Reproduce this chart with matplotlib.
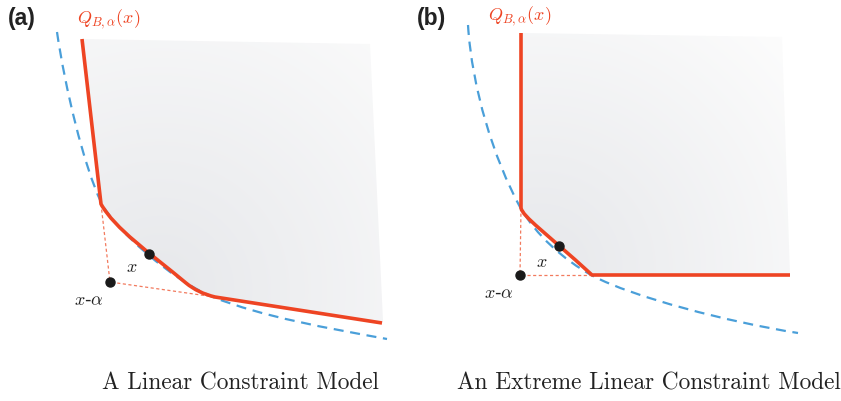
import matplotlib
matplotlib.use("Agg")
import matplotlib.pyplot as plt
import numpy as np
from matplotlib.path import Path
from matplotlib.patches import PathPatch

plt.rcParams['mathtext.fontset'] = 'cm'

# all coordinates are in picture pixels (x right, y down)
M, L, C3, C4 = Path.MOVETO, Path.LINETO, Path.CURVE3, Path.CURVE4

# panel (a): linear constraint model
a_red = [(82, 40), (101, 205), (115, 230), (150, 254), (186, 284), (198, 294), (215, 298),
         (382, 324)]
a_red_codes = [M, L, C4, C4, C4, C3, C3, L]
# blue dashed curve as three cubic bezier pieces
a_blue = [(57, 33), (65, 88), (83.5, 166), (101, 203),
          (113.5, 229.5), (173, 282), (213, 298),
          (263, 318), (327, 329), (387, 340)]
a_fill = [(370, 45), (383, 322)]   # top right, bottom right of the shaded region
a_x = (149, 255)
a_xa = (110, 283)
a_corners = [(101, 205), (215, 298)]

# panel (b): extreme linear constraint model
b_red = [(521, 34), (521, 209), (523, 218), (545, 233), (592, 276), (790, 276)]
b_red_codes = [M, L, C4, C4, C4, L]
b_blue = [(468, 26), (472, 90), (494, 160), (520, 208),
          (536, 236), (563, 260.5), (593, 277),
          (633, 298), (728, 323), (798, 334)]
b_fill = [(782, 38), (790, 276)]
b_x = (559, 247)
b_xa = (520, 276)
b_corners = [(521, 209), (592, 276)]

titles = ["A Linear Constraint Model", "An Extreme Linear Constraint Model"]
title_x = [240, 649]
panel_labels = ["(a)", "(b)"]

red = "#ee4423"
blue = "#4a9fd9"
thin = "#f27a5e"

fig = plt.figure(figsize=(8.41, 4.02), dpi=100)
ax = fig.add_axes([0, 0, 1, 1])
ax.set_xlim(0, 841)
ax.set_ylim(402, 0)
ax.axis('off')


def shade(red_pts, red_codes, fill_pts, anchor, reach):
    # gray gradient clipped to the region above the red boundary
    verts = list(red_pts) + [fill_pts[1], fill_pts[0], red_pts[0]]
    codes = list(red_codes) + [L, L, Path.CLOSEPOLY]
    patch = PathPatch(Path(verts, codes), facecolor='none', edgecolor='none')
    ax.add_patch(patch)
    yy, xx = np.mgrid[0:402, 0:841]
    d = np.hypot(xx - anchor[0], yy - anchor[1]) / reach
    t = np.clip(d, 0, 1)
    dark = np.array([0.905, 0.91, 0.922])
    light = np.array([0.99, 0.99, 0.99])
    img = dark[None, None, :] * (1 - t[..., None]) + light[None, None, :] * t[..., None]
    im = ax.imshow(img, extent=(0, 841, 402, 0), zorder=1, interpolation='bilinear')
    im.set_clip_path(patch)


def panel(red_pts, red_codes, blue_pts, fill_pts, xpt, xapt, corners, anchor, reach):
    shade(red_pts, red_codes, fill_pts, anchor, reach)
    codes = [M] + [C4] * (len(blue_pts) - 1)
    ax.add_patch(PathPatch(Path(blue_pts, codes), facecolor='none', edgecolor=blue, lw=1.6,
                           linestyle=(0, (4.5, 3)), zorder=2))
    ax.add_patch(PathPatch(Path(red_pts, red_codes), facecolor='none', edgecolor=red,
                           lw=2.6, joinstyle='round', zorder=3))
    for c in corners:
        ax.plot([c[0], xapt[0]], [c[1], xapt[1]], color=thin, lw=0.9,
                linestyle=(0, (2.5, 2)), zorder=2)
    ax.plot(*xpt, 'o', color='#1a1a1a', ms=6.5, zorder=4)
    ax.plot(*xapt, 'o', color='#1a1a1a', ms=6.5, zorder=4)


panel(a_red, a_red_codes, a_blue, a_fill, a_x, a_xa, a_corners, (160, 290), 380)
panel(b_red, b_red_codes, b_blue, b_fill, b_x, b_xa, b_corners, (540, 270), 340)

# labels
ax.text(132, 267, r'$x$', fontsize=13, ha='center', va='center', color='#222222')
ax.text(89, 300, r'$x$-$\alpha$', fontsize=13, ha='center', va='center', color='#222222')
ax.text(542, 262, r'$x$', fontsize=13, ha='center', va='center', color='#222222')
ax.text(499, 293, r'$x$-$\alpha$', fontsize=13, ha='center', va='center', color='#222222')

ax.text(109, 19, r'$Q_{B,\alpha}(x)$', fontsize=13, ha='center', va='center', color=red)
ax.text(520, 16, r'$Q_{B,\alpha}(x)$', fontsize=13, ha='center', va='center', color=red)

ax.text(8, 18, panel_labels[0], fontsize=16.5, fontweight='bold', family='Liberation Sans',
        ha='left', va='center', color='#222222')
ax.text(417, 18, panel_labels[1], fontsize=16.5, fontweight='bold', family='Liberation Sans',
        ha='left', va='center', color='#222222')

for t, x in zip(titles, title_x):
    ax.text(x, 383, t, fontsize=16.8, family='cmr10', ha='center', va='center', color='#222222')

fig.savefig('out.png', dpi=100)
